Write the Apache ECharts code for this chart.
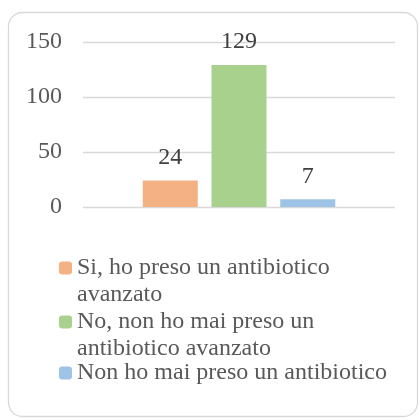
<!DOCTYPE html>
<html>
<head>
<meta charset="utf-8">
<script src="https://cdn.jsdelivr.net/npm/echarts@6/dist/echarts.min.js"></script>
<style>
  html, body { margin: 0; padding: 0; background: #fff; }
  #chart { width: 419px; height: 420px; }
</style>
</head>
<body>
<div id="chart"></div>
<script>
const seriesNames = [
  'Si, ho preso un antibiotico avanzato',
  'No, non ho mai preso un antibiotico avanzato',
  'Non ho mai preso un antibiotico'
]
// legend text as it wraps in the original
const legendLabels = [
  'Si, ho preso un antibiotico\navanzato',
  'No, non ho mai preso un\nantibiotico avanzato',
  'Non ho mai preso un antibiotico'
]
const seriesValues = [24, 129, 7]
const seriesColors = ['#f4b183', '#a9d18e', '#9dc3e6']
const yTicks = [0, 50, 100, 150]

const font = '"Liberation Serif", "Times New Roman", serif'
const lineH = 27
const chart = echarts.init(document.getElementById('chart'), null, { renderer: 'canvas' })

// one legend per item; blank lines on top keep the icon level with the first text line
const iconCenters = [268, 322, 373]
const legends = seriesNames.map((name, i) => {
  const lines = legendLabels[i].split('\n').length
  const text = '\u00a0\n'.repeat(lines - 1) + legendLabels[i]
  const boxH = (2 * lines - 1) * lineH
  return {
    orient: 'vertical',
    left: 59,
    top: iconCenters[i] - boxH / 2,
    itemWidth: 13,
    itemHeight: 13,
    itemGap: 0,
    padding: 0,
    selectedMode: false,
    data: [name],
    formatter: () => text,
    textStyle: {
      fontFamily: font,
      fontSize: 24,
      color: '#595959',
      lineHeight: lineH
    }
  }
})

chart.setOption({
  animation: false,
  graphic: [{
    type: 'rect',
    shape: { x: 8.5, y: 12.5, width: 409, height: 404, r: 14 },
    style: { fill: 'none', stroke: '#d9d9d9', lineWidth: 1.3 },
    silent: true
  }],
  grid: { left: 83, right: 24, top: 42, bottom: 213 },
  legend: legends,
  xAxis: {
    type: 'category',
    data: [''],
    axisLine: { show: false },
    axisTick: { show: false },
    axisLabel: { show: false }
  },
  yAxis: {
    type: 'value',
    min: yTicks[0],
    max: yTicks[yTicks.length - 1],
    interval: 50,
    axisLabel: {
      fontFamily: font,
      fontSize: 24,
      color: '#595959',
      margin: 21
    },
    splitLine: { lineStyle: { color: '#d9d9d9', width: 1.3 } }
  },
  series: seriesNames.map((name, i) => ({
    name,
    type: 'bar',
    data: [seriesValues[i]],
    barWidth: 55,
    barGap: '25%',
    itemStyle: { color: seriesColors[i] },
    label: {
      show: true,
      position: 'top',
      distance: 11,
      fontFamily: font,
      fontSize: 24,
      color: '#404040'
    }
  }))
})
</script>
</body>
</html>
